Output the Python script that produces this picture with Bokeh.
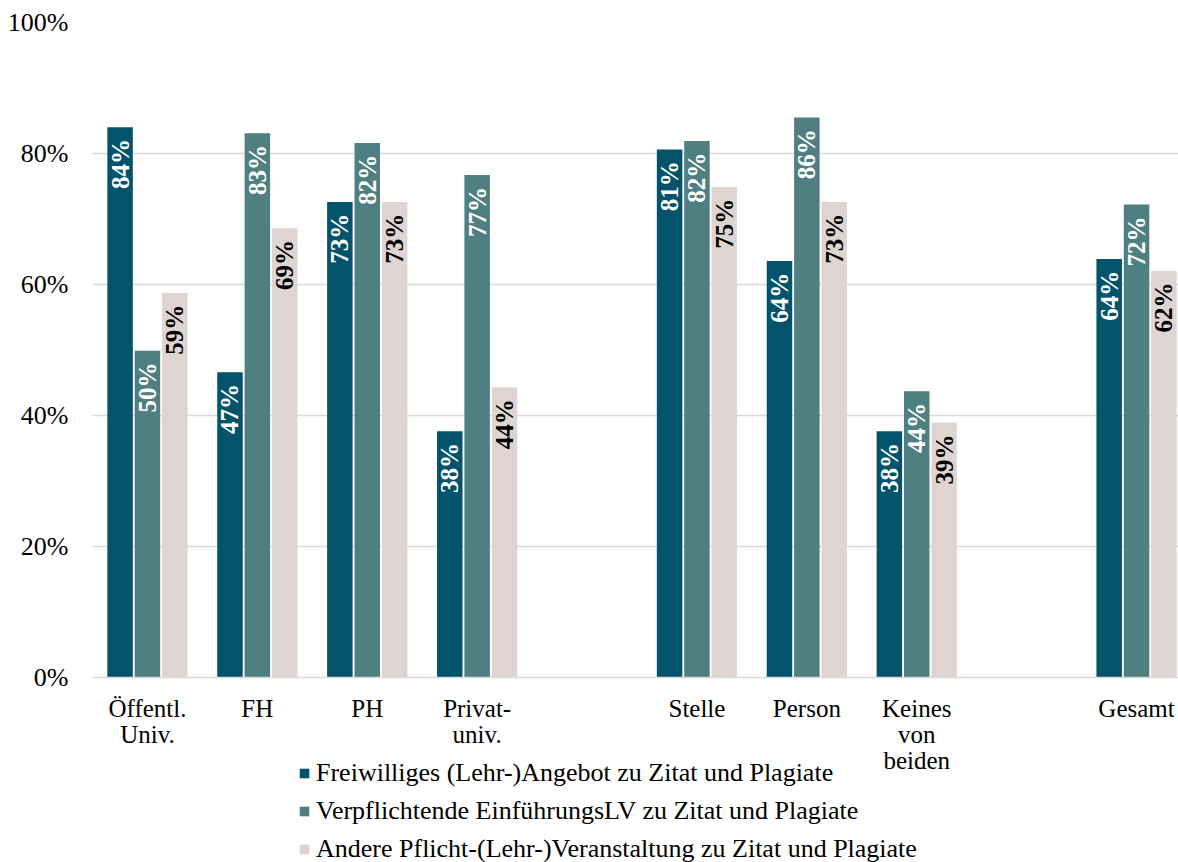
import math
from bokeh.plotting import figure
from bokeh.models import (ColumnDataSource, Range1d, FixedTicker, Legend, LegendItem,
                          CustomJSTickFormatter, Span)
from bokeh.core.properties import value
from bokeh.embed import file_html
from bokeh.resources import INLINE

categories = ["Öffentl.\nUniv.", "FH", "PH", "Privat-\nuniv.", "",
              "Stelle", "Person", "Keines\nvon\nbeiden", "", "Gesamt"]
series_names = ["Freiwilliges (Lehr-)Angebot zu Zitat und Plagiate",
                "Verpflichtende EinführungsLV zu Zitat und Plagiate",
                "Andere Pflicht-(Lehr-)Veranstaltung zu Zitat und Plagiate"]
freiwillig = [84.0, 46.6, 72.6, 37.6, None, 80.6, 63.6, 37.6, None, 63.9]
verpflichtend = [49.9, 83.1, 81.6, 76.7, None, 81.9, 85.5, 43.7, None, 72.2]
andere = [58.7, 68.6, 72.6, 44.3, None, 74.9, 72.6, 38.9, None, 62.1]
y_ticks = [0, 20, 40, 60, 80, 100]

colors = ["#03536A", "#4F7F80", "#DED4D1"]
label_colors = ["white", "white", "black"]
FONT = "Liberation Serif"

W, H = 1178, 862
TOP, LEFT = 22, 92
PX_PER_UNIT = 6.55           # 655 px for 0..100 %
SLOT_PX = 109.9
frame_h = H - TOP
y_min = 100 - frame_h / PX_PER_UNIT
x_max = -0.5 + (W - LEFT) / SLOT_PX

p = figure(width=W, height=H, output_backend="svg", toolbar_location=None,
           x_range=Range1d(-0.5, x_max), y_range=Range1d(y_min, 100),
           min_border_left=LEFT, min_border_right=0, min_border_top=TOP,
           min_border_bottom=0)
p.outline_line_color = None
p.background_fill_color = "white"
p.border_fill_color = "white"

# grid and baseline
p.xgrid.grid_line_color = None
p.ygrid.ticker = FixedTicker(ticks=y_ticks[1:])
p.ygrid.grid_line_color = "#D9D9D9"
p.ygrid.grid_line_width = 1.5
p.add_layout(Span(location=0, dimension="width", line_color="#D9D9D9", line_width=1.5))

offsets = [-0.249, 0.0, 0.249]
renderers = []
for si, vals in enumerate([freiwillig, verpflichtend, andere]):
    xs = [i + offsets[si] for i, v in enumerate(vals) if v is not None]
    tops = [v for v in vals if v is not None]
    src = ColumnDataSource(dict(
        x=xs, top=tops,
        ly=[t - 1.8 for t in tops],
        txt=["%d%%" % round(t) for t in tops]))
    r = p.vbar(x="x", top="top", bottom=0, width=0.232, source=src,
               fill_color=colors[si], line_color=None)
    renderers.append(r)
    p.text(x="x", y="ly", text="txt", source=src, angle=math.pi / 2,
           text_align="right", text_baseline="middle",
           text_font=value(FONT), text_font_style="bold",
           text_font_size="25px", text_color=label_colors[si])

# category labels below the baseline
cat_src = ColumnDataSource(dict(
    x=[i for i, c in enumerate(categories) if c],
    y=[-17 / PX_PER_UNIT for c in categories if c],
    t=[c for c in categories if c]))
p.text(x="x", y="y", text="t", source=cat_src, text_align="center",
       text_baseline="top", text_font=value(FONT), text_font_size="25px",
       text_line_height=0.98, text_color="black")

p.xaxis.visible = False

p.yaxis.ticker = FixedTicker(ticks=y_ticks)
p.yaxis.formatter = CustomJSTickFormatter(code="return tick + '%';")
p.yaxis.major_tick_line_color = None
p.yaxis.major_tick_out = 0
p.yaxis.major_tick_in = 0
p.yaxis.minor_tick_line_color = None
p.yaxis.axis_line_color = None
p.yaxis.major_label_text_font = FONT
p.yaxis.major_label_text_font_size = "26px"
p.yaxis.major_label_text_color = "black"
p.yaxis.major_label_standoff = 24

legend = Legend(items=[LegendItem(label=n, renderers=[r]) for n, r in zip(series_names, renderers)],
                location=(206, -2), orientation="vertical",
                label_text_font=FONT, label_text_font_size="26px",
                label_text_color="black",
                glyph_width=12, glyph_height=12, label_standoff=6,
                label_height=30, spacing=8, padding=0, margin=0,
                border_line_color=None, background_fill_alpha=0)
p.add_layout(legend, "center")

open("out.html", "w").write(file_html(p, INLINE))
